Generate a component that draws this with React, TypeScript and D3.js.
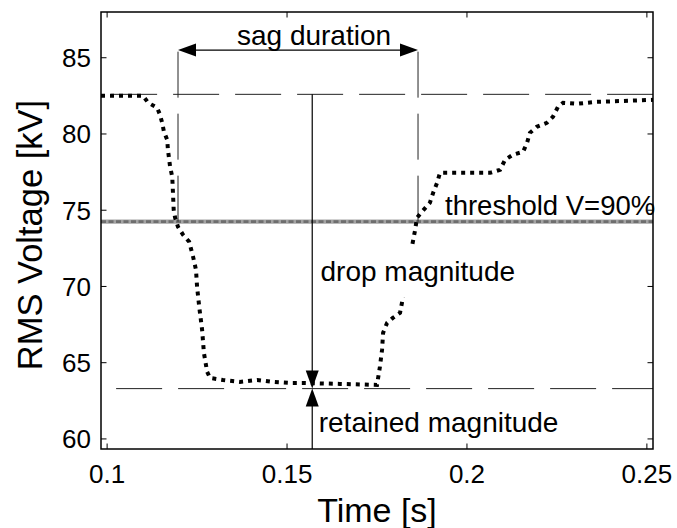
import React from "react";
import * as d3 from "d3";

// Series: RMS voltage (kV) vs time (s)
const timeValues = [
  0.0983, 0.11, 0.1114, 0.1139, 0.1147, 0.1153, 0.1158, 0.1167, 0.1169, 0.1175, 0.1181, 0.1183, 0.1185,
  0.1189, 0.1197, 0.1211, 0.1228, 0.1239, 0.1247, 0.125, 0.1256, 0.1264, 0.1269, 0.1278, 0.1286, 0.1322,
  0.1369, 0.1417, 0.1461, 0.1508, 0.1544, 0.1647, 0.175, 0.1758, 0.1764, 0.1767, 0.1778, 0.1794, 0.1814,
  0.1822, 0.1847, 0.1856, 0.1861, 0.1875, 0.1897, 0.1906, 0.1917, 0.1925, 0.1953, 0.2017, 0.2064, 0.2092,
  0.2106, 0.2128, 0.2156, 0.2167, 0.2175, 0.2194, 0.2222, 0.2239, 0.2253, 0.2267, 0.2306, 0.2361, 0.2453,
  0.2517,
];
const voltageValues = [
  82.5, 82.5, 82.05, 81.72, 81.26, 80.73, 80.14, 79.62, 78.96, 77.85, 77.19, 76.14, 75.03,
  74.5, 73.91, 73.39, 72.93, 71.94, 71.09, 69.97, 68.66, 67.15, 65.64, 64.4, 64.0, 63.87,
  63.74, 63.87, 63.74, 63.67, 63.67, 63.61, 63.54, 64.72, 65.84, 66.96, 67.61, 67.94, 68.27,
  69.25, 72.6, 73.71, 74.5, 74.9, 75.49, 76.14, 76.8, 77.45, 77.45, 77.45, 77.45, 77.65,
  78.31, 78.64, 78.83, 79.42, 80.08, 80.47, 80.73, 81.13, 81.78, 82.05, 81.98, 82.11, 82.18,
  82.24,
];

const xTicks = [0.1, 0.15, 0.2, 0.25];
const xTickLabels = ["0.1", "0.15", "0.2", "0.25"];
const yTicks = [60, 65, 70, 75, 80, 85];
const yTickLabels = ["60", "65", "70", "75", "80", "85"];

const xDomain = [0.0983, 0.2517];
const yDomain = [59.34, 88.0];

// Reference levels
const preSagLevel = 82.6;
const retainedLevel = 63.3;
const thresholdLevel = 74.25;
const sagStart = 0.1197;
const sagEnd = 0.1864;
const markerTime = 0.157;
const markerTop = 86.44;

const FONT = "'Liberation Sans', Arial, Helvetica, sans-serif";

export default function App() {
  const left = 101, right = 653, top = 12, bottom = 449;
  const x = d3.scaleLinear().domain(xDomain).range([left, right]);
  const y = d3.scaleLinear().domain(yDomain).range([bottom, top]);

  const pts: [number, number][] = timeValues.map((t, i) => [t, voltageValues[i]]);
  const line = d3
    .line<[number, number]>()
    .x((d) => x(d[0]))
    .y((d) => y(d[1]));

  const tickLen = 5.5;
  const ax = x(markerTime);
  const yRet = y(retainedLevel);
  const yPre = y(preSagLevel);
  const yThr = y(thresholdLevel);
  const yArrow = y(85.5);
  const xs = x(sagStart);
  const xe = x(sagEnd);
  const head = 18;
  const hw = 6.5;

  return (
    <svg
      width={677}
      height={528}
      style={{ position: "fixed", left: 0, top: 0, background: "#fff" }}
      fontFamily={FONT}
    >
      <rect x={0} y={0} width={677} height={528} fill="#fff" />

      {/* threshold line */}
      <line x1={left} x2={right} y1={yThr} y2={yThr} stroke="#a3a3a3" strokeWidth={4.2} />
      <line x1={left} x2={right} y1={yThr} y2={yThr} stroke="#6e6e6e" strokeWidth={2.6} strokeDasharray="5 2.5" />

      {/* horizontal dashed reference lines */}
      <line x1={x(0.1)} x2={right} y1={yPre} y2={yPre} stroke="#222" strokeWidth={1} strokeDasharray="46 16" strokeDashoffset={58} />
      <line x1={x(0.1)} x2={right} y1={yRet} y2={yRet} stroke="#222" strokeWidth={1} strokeDasharray="46 16" strokeDashoffset={53} />

      {/* vertical dashed lines */}
      <line x1={xs} x2={xs} y1={yThr} y2={y(markerTop)} stroke="#222" strokeWidth={1} strokeDasharray="46 16" />
      <line x1={xe} x2={xe} y1={yThr} y2={y(markerTop)} stroke="#222" strokeWidth={1} strokeDasharray="46 16" />

      {/* series */}
      <path d={line(pts) || ""} fill="none" stroke="#000" strokeWidth={4} strokeDasharray="4 5" />

      {/* sag duration arrow */}
      <line x1={xs + 4} x2={xe - 4} y1={yArrow} y2={yArrow} stroke="#000" strokeWidth={1.3} />
      <path d={`M${xs},${yArrow} L${xs + head},${yArrow - hw} L${xs + head},${yArrow + hw} Z`} fill="#000" />
      <path d={`M${xe},${yArrow} L${xe - head},${yArrow - hw} L${xe - head},${yArrow + hw} Z`} fill="#000" />

      {/* drop magnitude arrow */}
      <line x1={ax} x2={ax} y1={yPre} y2={yRet - 4} stroke="#000" strokeWidth={1.2} />
      <path d={`M${ax},${yRet} L${ax - hw},${yRet - head} L${ax + hw},${yRet - head} Z`} fill="#000" />
      {/* retained magnitude arrow */}
      <line x1={ax} x2={ax} y1={bottom} y2={yRet + 4} stroke="#000" strokeWidth={1.2} />
      <path d={`M${ax},${yRet} L${ax - hw},${yRet + head} L${ax + hw},${yRet + head} Z`} fill="#000" />

      {/* annotations */}
      <text x={x(0.1575)} y={y(85.85)} fontSize={28} textAnchor="middle" fill="#000">sag duration</text>
      <text x={x(0.1939)} y={y(74.7)} fontSize={27.5} fill="#000">threshold V=90%</text>
      <rect x={316} y={248} width={206} height={49} fill="#fff" />
      <text x={x(0.1593)} y={y(70.37)} fontSize={28} fill="#000">drop magnitude</text>
      <text x={x(0.1588)} y={y(60.46)} fontSize={28} fill="#000">retained magnitude</text>

      {/* frame */}
      <rect x={left} y={top} width={right - left} height={bottom - top} fill="none" stroke="#000" strokeWidth={1.5} />

      {/* ticks */}
      {xTicks.map((t) => (
        <g key={"xt" + t}>
          <line x1={x(t)} x2={x(t)} y1={bottom} y2={bottom - tickLen} stroke="#000" strokeWidth={1} />
          <line x1={x(t)} x2={x(t)} y1={top} y2={top + tickLen} stroke="#000" strokeWidth={1} />
        </g>
      ))}
      {yTicks.map((v) => (
        <g key={"yt" + v}>
          <line x1={left} x2={left + tickLen} y1={y(v)} y2={y(v)} stroke="#000" strokeWidth={1} />
          <line x1={right} x2={right - tickLen} y1={y(v)} y2={y(v)} stroke="#000" strokeWidth={1} />
        </g>
      ))}

      {/* tick labels */}
      {xTicks.map((t, i) => (
        <text key={"xl" + t} x={x(t)} y={483} fontSize={26} textAnchor="middle" fill="#000">
          {xTickLabels[i]}
        </text>
      ))}
      {yTicks.map((v, i) => (
        <text key={"yl" + v} x={91} y={y(v) + 9.5} fontSize={26} textAnchor="end" fill="#000">
          {yTickLabels[i]}
        </text>
      ))}

      {/* axis labels */}
      <text x={(left + right) / 2} y={522} fontSize={34} textAnchor="middle" fill="#000">Time [s]</text>
      <text
        transform={`translate(42, ${235}) rotate(-90)`}
        fontSize={34.5}
        textAnchor="middle"
        fill="#000"
      >
        RMS Voltage [kV]
      </text>
    </svg>
  );
}
